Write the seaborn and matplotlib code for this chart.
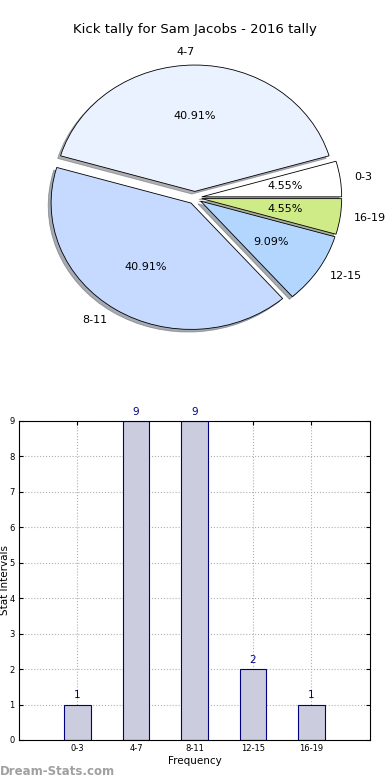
import matplotlib
matplotlib.use("Agg")
import matplotlib.pyplot as plt
import seaborn as sns
import pandas as pd

categories = ["0-3", "4-7", "8-11", "12-15", "16-19"]
counts = [1, 9, 9, 2, 1]
pie_colors = ["#ffffff", "#eaf1ff", "#c6d9fe", "#b3d6ff", "#cfeb88"]
title = "Kick tally for Sam Jacobs - 2016 tally"

sns.set_style("white")
plt.rcParams["font.family"] = ["DejaVu Sans"]
plt.rcParams["text.color"] = "black"
plt.rcParams["axes.labelcolor"] = "black"
plt.rcParams["xtick.color"] = "black"
plt.rcParams["ytick.color"] = "black"

fig = plt.figure(figsize=(3.9, 7.8), dpi=100)

# Pie chart
ax1 = fig.add_axes([0.051, 0.544, 0.897, 0.405])
wedges, texts, autotexts = ax1.pie(
    counts, labels=categories, colors=pie_colors, autopct="%.2f%%",
    explode=[0.05] * len(counts), shadow=dict(ox=-0.015, oy=-0.015, shade=0.6),
    startangle=0,
    wedgeprops=dict(edgecolor="black", linewidth=0.6),
    textprops=dict(fontsize=8, color="black"),
)
ax1.set_aspect("auto")
ax1.set_xlim(-1.25, 1.25)
ax1.set_ylim(-1.25, 1.25)
ax1.set_title(title, fontsize=9.5, pad=5, color="black")

# Bar chart
ax2 = fig.add_axes([0.0487, 0.0513, 0.9, 0.409])
df = pd.DataFrame({"cat": categories, "n": counts})
sns.barplot(data=df, x="cat", y="n", color="#ccccdf", edgecolor="#000080",
            linewidth=0.8, width=0.45, saturation=1, ax=ax2, zorder=2)
ax2.set_xlim(-1, 5)
ax2.set_ylim(0, 9)
ax2.set_yticks(range(0, 10))
ax2.grid(True, color="#b0b0b0", linestyle=":", linewidth=0.8, zorder=0)
ax2.set_axisbelow(True)
ax2.tick_params(axis="both", labelsize=6, direction="in", length=3,
                top=True, right=True, bottom=True, left=True, pad=3)
for s in ax2.spines.values():
    s.set_color("black")
    s.set_linewidth(0.8)
ax2.set_xlabel("Frequency", fontsize=7.5, labelpad=2)
ax2.set_ylabel("Stat Intervals", fontsize=7.5)
ax2.yaxis.set_label_coords(-0.026, 0.5)
for i, v in enumerate(counts):
    ax2.annotate(str(v), xy=(i, v), xytext=(0, 3), textcoords="offset points",
                 ha="center", va="bottom", fontsize=7.5, color="#000080",
                 annotation_clip=False)

fig.text(0.0, 0.003, "Dream-Stats.com", fontsize=8.5, color="#a0a0a0",
         fontweight="bold", ha="left", va="bottom")

fig.savefig("out.png", dpi=100)
